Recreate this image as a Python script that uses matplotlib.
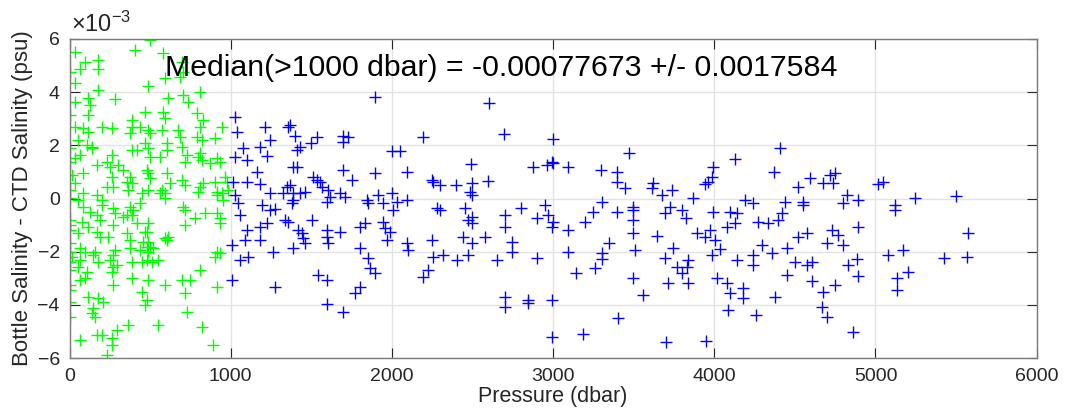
import matplotlib.pyplot as plt

plt.rcParams['font.family'] = ['Liberation Sans', 'DejaVu Sans']
plt.rcParams['mathtext.default'] = 'regular'

# Shallow samples (< ~1000 dbar), salinity difference in units of 1e-3 psu
green_p = [406, 34, 96, 179, 179, 65, 3, 34, 179, 489, 34, 117, 127, 282, 3, 117, 468, 386, 386, 34,
           86, 117, 200, 262, 437, 375, 499, 55, 138, 107, 468, 3, 65, 138, 262, 231, 386, 417, 489, 34,
           3, 169, 251, 303, 334, 479, 375, 489, 14, 86, 34, 262, 355, 386, 231, 272, 3, 86, 169, 365,
           448, 3, 200, 55, 86, 127, 200, 272, 282, 375, 437, 396, 355, 3, 3, 3, 76, 117, 169, 189,
           272, 334, 386, 417, 55, 169, 189, 241, 355, 375, 468, 458, 3, 65, 3, 14, 96, 158, 148, 282,
           272, 375, 437, 479, 3, 65, 179, 251, 293, 386, 448, 479, 55, 107, 262, 3, 272, 386, 65, 96,
           3, 272, 489, 3, 117, 179, 210, 448, 479, 3, 3, 148, 138, 158, 365, 293, 65, 200, 169, 262,
           262, 231, 499, 582, 696, 592, 685, 706, 613, 706, 810, 737, 582, 592, 789, 830, 810, 944, 489, 572,
           675, 685, 789, 820, 903, 603, 603, 696, 727, 810, 799, 820, 913, 934, 872, 499, 561, 716, 499, 603,
           623, 696, 716, 810, 830, 903, 965, 975, 489, 572, 592, 913, 944, 985, 561, 592, 799, 913, 954, 706,
           716, 778, 840, 913, 934, 934, 716, 489, 479, 592, 613, 603, 489, 499, 489, 520, 510, 551, 913, 903,
           934, 810, 592, 696, 747, 716, 913, 468, 727, 551, 820, 892]
green_s = [5.58, 5.52, 5.14, 5.21, 4.89, 4.89, 4.77, 4.33, 4.1, 4.23, 3.64, 3.77, 3.52, 3.73, 3.14, 3.14, 3.26, 2.95, 2.7, 2.7,
           2.64, 2.51, 2.7, 2.64, 2.7, 2.45, 2.45, 2.2, 1.95, 2.01, 2.08, 1.89, 1.64, 1.89, 1.64, 1.38, 1.82, 1.82, 1.89, 1.51,
           1.38, 1.26, 1.2, 1.26, 1.07, 1.07, 0.82, 0.95, 0.88, 0.95, 0.57, 0.82, 0.63, 0.57, 0.44, 0.44, 0.32, 0.2, 0.13, 0.32,
           0.2, 0.01, -0.06, -0.06, -0.31, -0.5, -0.24, -0.37, -0.56, -0.31, -0.18, -0.43, -0.62, -0.81, -1.0, -1.18, -0.87, -1.06, -0.62, -0.81,
           -1.0, -0.68, -0.62, -0.93, -1.31, -1.25, -1.44, -1.44, -1.31, -1.56, -1.25, -1.62, -1.68, -1.87, -2.0, -2.19, -2.0, -2.0, -2.12, -1.94,
           -2.12, -1.87, -1.94, -1.81, -2.38, -2.31, -2.38, -2.31, -2.5, -2.38, -2.38, -2.31, -2.56, -2.75, -2.75, -2.69, -2.56, -3.0, -3.06, -3.0,
           -3.25, -3.25, -3.06, -3.44, -3.69, -3.75, -3.88, -3.5, -3.82, -3.88, -4.44, -4.13, -4.32, -4.44, -4.76, -4.94, -5.32, -5.13, -5.13, -5.26,
           -5.51, -5.88, 5.96, 5.46, 5.14, 4.52, 4.58, 4.77, 3.77, 3.89, 4.02, 3.64, 3.26, 3.01, 3.2, 2.95, 2.7, 2.7, 2.58, 2.58,
           2.58, 2.32, 2.32, 2.2, 2.26, 2.08, 1.82, 1.95, 1.64, 1.7, 1.57, 1.45, 1.51, 1.38, 1.32, 1.57, 1.57, 1.38, 0.76, 0.95,
           0.57, 0.7, 0.51, 0.44, 0.57, 0.63, 0.82, 0.63, 0.32, 0.32, 0.2, 0.26, 0.2, 0.32, 0.2, 0.01, 0.26, 0.13, -0.06, -0.31,
           -0.43, -0.75, -0.56, -0.56, -0.75, -0.93, -1.0, -0.93, -1.25, -1.5, -1.44, -1.56, -1.62, -1.81, -2.0, -1.87, -2.38, -2.31, -2.0, -2.19,
           -2.06, -2.69, -3.25, -3.06, -3.06, -3.56, -3.32, -4.0, -4.26, -4.76, -4.82, -5.51]

# Deep samples (> ~1000 dbar)
blue_p = [1027, 1037, 1213, 1357, 1244, 1182, 1078, 1027, 1099, 1223, 1161, 1016, 1099, 1182, 1244, 1326, 1347, 1027, 1047, 1192,
          1244, 1275, 1058, 1337, 1099, 1182, 1223, 1089, 1182, 1006, 1058, 1109, 1264, 1006, 1275, 1895, 1368, 1399, 1496, 1533,
          1699, 1730, 1699, 2195, 1999, 2050, 1409, 1430, 1388, 1409, 1512, 1533, 1554, 1699, 1751, 1895, 2092, 2247, 1368, 1388,
          1430, 1461, 1388, 1378, 1564, 1606, 1616, 1595, 1678, 1709, 1844, 1854, 1916, 1947, 1999, 2030, 2009, 2092, 2278, 1357,
          1502, 1420, 1440, 1451, 1461, 1595, 1595, 1606, 1678, 1388, 1802, 1833, 1947, 1957, 1988, 1968, 1802, 1854, 1864, 1895,
          2092, 2102, 2247, 2257, 2226, 2195, 1544, 1595, 1802, 1771, 1595, 1699, 2604, 2695, 3001, 2489, 2877, 2960, 2991, 3001,
          3094, 2257, 2298, 2398, 2495, 2598, 2484, 2495, 2298, 2453, 2474, 2495, 2495, 2702, 2702, 2799, 2898, 2950, 2970, 3001,
          2991, 3094, 3198, 2443, 2495, 2577, 2743, 2319, 2402, 2474, 2650, 2743, 2898, 3094, 3142, 2702, 2702, 2846, 2846, 2991,
          2991, 3188, 3473, 3297, 3395, 3395, 3446, 3622, 3612, 3673, 3736, 3994, 3984, 3963, 3943, 4128, 3870, 3302, 3250, 3395,
          3498, 3498, 3494, 3694, 3725, 3798, 3824, 3994, 4097, 4139, 4077, 4128, 3349, 3302, 3302, 3498, 3508, 3643, 3891, 3943,
          3974, 4005, 4036, 3984, 3746, 3694, 3767, 3798, 3839, 3829, 3260, 4139, 3498, 3560, 3715, 3839, 4015, 4077, 4097, 4087,
          3400, 3700, 3949, 4408, 4372, 4521, 4594, 4676, 4718, 4749, 4738, 5017, 5048, 4191, 4242, 4439, 4548, 4552, 4822, 4800,
          4893, 4273, 4335, 4397, 4418, 4521, 4573, 4728, 4769, 4800, 4893, 4697, 4294, 4242, 4356, 4449, 4242, 4500, 4573, 4604,
          4449, 4604, 4831, 4883, 4893, 4180, 4180, 4377, 4676, 4749, 4666, 4697, 4259, 4862, 5121, 5121, 5245, 5499, 5576, 5079,
          5172, 5425, 5566, 5203, 5131, 5135]
blue_s = [3.05, 2.5, 2.68, 2.68, 2.2, 1.95, 1.89, 1.57, 1.45, 1.6, 1.0, 0.63, 0.63, 0.55, 0.2, 0.2, 0.44, 0.13, -0.18, -0.24,
          -0.43, -0.4, -0.62, -0.81, -1.18, -1.06, -0.93, -1.56, -1.56, -1.75, -2.31, -2.19, -2.0, -3.06, -3.34, 3.83, 2.76, 2.35, 2.07, 2.32,
          2.35, 2.32, 2.11, 2.3, 1.8, 1.8, 1.82, 1.95, 1.2, 1.17, 0.82, 0.7, 0.63, 1.07, 0.7, 0.97, 1.01, 0.7, 0.5, 0.2,
          0.2, 0.25, -0.06, -0.18, 0.44, 0.32, 0.07, -0.12, 0.2, 0.07, -0.06, -0.18, 0.13, -0.18, 0.2, -0.12, -0.43, -0.06, -0.37, -0.87,
          -0.81, -1.18, -1.31, -1.5, -1.68, -1.18, -1.44, -1.68, -1.25, -1.87, -1.06, -0.93, -0.87, -1.12, -1.25, -1.56, -1.87, -2.25, -2.62, -2.81,
          -1.68, -1.94, -1.56, -2.19, -2.69, -2.94, -2.88, -3.06, -3.32, -3.56, -3.97, -4.26, 3.58, 2.42, 2.22, 1.3, 1.2, 1.26, 1.38, 1.32,
          1.2, 0.63, 0.51, 0.51, 0.57, 0.67, 0.26, 0.13, -0.43, -0.37, -0.81, -0.68, -0.93, -0.62, -1.06, -0.37, -0.75, -0.24, -0.62, -0.87,
          -1.06, -1.18, -0.87, -1.44, -1.68, -1.44, -1.62, -2.12, -2.31, -2.12, -2.31, -2.0, -2.25, -2.0, -2.81, -3.69, -4.07, -3.82, -3.94, -3.82,
          -5.2, -5.09, 1.7, 1.07, 1.01, 0.63, 0.38, 0.57, 0.38, 0.13, 0.32, 1.2, 0.82, 0.63, 0.55, 1.47, 0.01, -0.12, -0.5, -0.5,
          -0.31, -0.43, -0.81, -0.56, -0.31, -0.43, -0.75, -0.5, -0.5, -0.56, -1.06, -0.93, -1.66, -2.06, -2.29, -1.31, -1.94, -1.4, -1.29, -1.44,
          -1.18, -1.56, -1.91, -2.12, -1.87, -2.25, -2.56, -2.81, -2.31, -2.59, -2.62, -2.31, -3.0, -3.63, -3.19, -3.19, -3.0, -3.19, -3.56, -4.19,
          -4.5, -5.38, -5.35, 1.89, 1.01, 0.44, 0.76, 0.57, 0.88, 0.95, 0.57, 0.55, 0.63, -0.06, -0.18, -0.12, -0.12, -0.24, 0.13, -0.18,
          -0.06, -0.87, -0.93, -0.81, -0.56, -1.44, -1.31, -1.18, -1.37, -1.75, -1.06, -1.68, -1.75, -2.12, -2.06, -1.87, -2.5, -2.38, -2.5, -2.38,
          -2.88, -3.09, -2.5, -2.29, -2.91, -3.38, -3.75, -3.69, -3.5, -3.25, -4.07, -4.44, -4.38, -5.01, -0.24, -0.43, 0.01, 0.1, -1.31, -2.12,
          -1.94, -2.25, -2.21, -2.75, -3.0, -3.44]

x_ticks = [0, 1000, 2000, 3000, 4000, 5000, 6000]
y_ticks = [-6, -4, -2, 0, 2, 4, 6]
note = "Median(>1000 dbar) = -0.00077673 +/- 0.0017584"

fig = plt.figure(figsize=(10.66, 4.18), dpi=100)
ax = fig.add_axes([0.0652, 0.1435, 0.9073, 0.7632])

ax.plot(green_p, green_s, '+', color=(0, 1, 0), markersize=9, markeredgewidth=1.0)
ax.plot(blue_p, blue_s, '+', color=(0, 0, 1), markersize=9, markeredgewidth=1.0)

ax.set_xlim(0, 6000)
ax.set_ylim(-6, 6)
ax.set_xticks(x_ticks)
ax.set_yticks(y_ticks)
ax.grid(True, color='#e3e3e3', linewidth=1.0)
ax.set_axisbelow(True)

dark = '#262626'
for s in ax.spines.values():
    s.set_color('#7a7a7a')
    s.set_linewidth(1.0)
ax.tick_params(direction='in', length=7, width=0.8, color=dark, labelcolor=dark,
               labelsize=14, top=True, right=True, pad=7)

ax.set_xlabel('Pressure (dbar)', fontsize=15.5, color=dark, labelpad=1)
ax.set_ylabel('Bottle Salinity - CTD Salinity (psu)', fontsize=16, color=dark, labelpad=3)
ax.text(0.002, 1.008, r'$\times10^{-3}$', transform=ax.transAxes, fontsize=17,
        color=dark, ha='left', va='bottom')
ax.text(595, 4.9, note, fontsize=21.8, color='black', ha='left', va='center')

fig.savefig('out.png', dpi=100)
